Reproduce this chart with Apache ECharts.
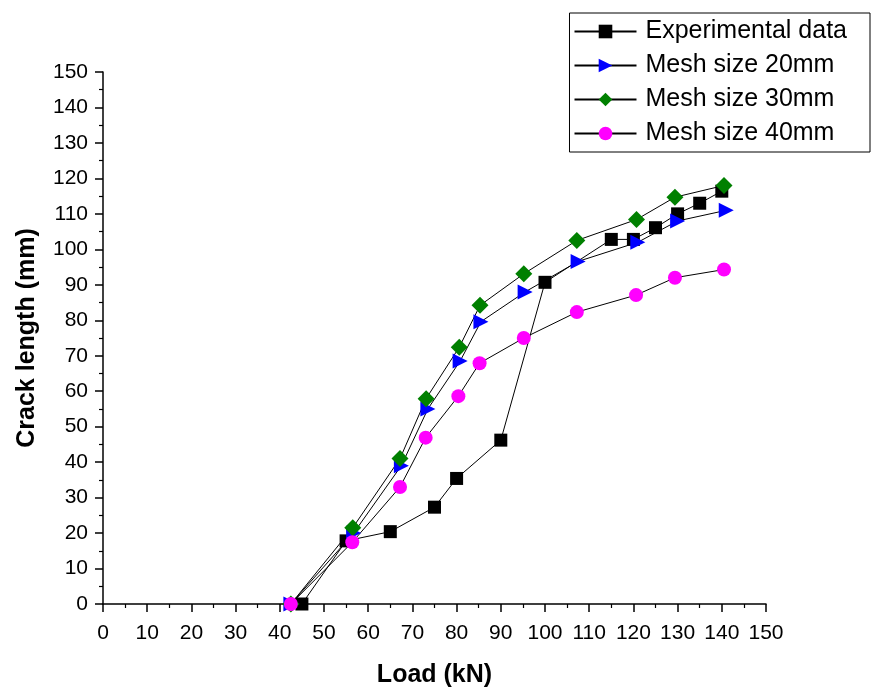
<!DOCTYPE html>
<html>
<head>
<meta charset="utf-8">
<script src="https://cdn.jsdelivr.net/npm/echarts@6/dist/echarts.min.js"></script>
<style>
  html, body { margin: 0; padding: 0; background: #fff; }
  #main { width: 871px; height: 688px; }
</style>
</head>
<body>
<div id="main"></div>
<script>
// values: [load kN, crack length mm]
var expData = [[45, 0], [55, 17.8], [65, 20.4], [75, 27.3], [80, 35.4], [90, 46.2], [100, 90.7],
    [115, 102.8], [120, 102.8], [125, 106.1], [130, 110], [135, 113], [140, 116.4]];
var mesh20 = [[42.5, 0], [56.7, 20], [67.5, 39], [73.5, 55], [80.8, 68.5], [85.5, 79.6], [95.5, 88],
    [107.5, 96.6], [121, 102], [130, 108], [141, 111]];
var mesh30 = [[42.5, 0], [56.5, 21.5], [67.2, 41], [73.1, 57.9], [80.6, 72.4], [85.3, 84.2], [95.2, 93.1],
    [107.2, 102.5], [120.7, 108.4], [129.4, 114.7], [140.5, 118]];
var mesh40 = [[42.5, 0], [56.4, 17.4], [67.2, 33], [73, 46.9], [80.4, 58.6], [85.2, 67.9], [95.2, 75],
    [107.2, 82.3], [120.6, 87.1], [129.4, 92], [140.5, 94.3]];
var seriesNames = ['Experimental data', 'Mesh size 20mm', 'Mesh size 30mm', 'Mesh size 40mm'];

var myChart = echarts.init(document.getElementById('main'));

function axisCommon() {
    return {
        type: 'value',
        min: 0,
        max: 150,
        interval: 10,
        nameLocation: 'middle',
        nameTextStyle: {
            color: '#000',
            fontSize: 25,
            fontWeight: 'bold',
            fontFamily: 'Liberation Sans'
        },
        axisLine: {show: true, onZero: false, lineStyle: {color: '#000', width: 1.5}},
        axisTick: {show: true, inside: false, length: 8, lineStyle: {color: '#000', width: 1.5}},
        minorTick: {show: true, splitNumber: 2, length: 4, lineStyle: {color: '#000', width: 1.2}},
        splitLine: {show: false},
        axisLabel: {
            color: '#000',
            fontSize: 21,
            fontFamily: 'Liberation Sans'
        }
    };
}

var xAxis = axisCommon();
xAxis.name = 'Load (kN)';
xAxis.nameGap = 59;
xAxis.axisLabel.margin = 19;

var yAxis = axisCommon();
yAxis.name = 'Crack length (mm)';
yAxis.nameGap = 63;
yAxis.axisLabel.margin = 15;

function lineSeries(name, data, symbol, size, color, rotate) {
    return {
        name: name,
        type: 'line',
        data: data,
        symbol: symbol,
        symbolSize: size,
        symbolRotate: rotate || 0,
        showAllSymbol: true,
        lineStyle: {color: '#000', width: 1},
        itemStyle: {color: color, opacity: 1},
        emphasis: {disabled: true},
        animation: false
    };
}

var option = {
    backgroundColor: '#fff',
    grid: {
        left: 103,
        right: 105,
        top: 72,
        bottom: 84,
        containLabel: false,
        outerBoundsMode: 'none'
    },
    legend: {
        data: seriesNames,
        orient: 'vertical',
        right: 1,
        top: 13,
        borderColor: '#000',
        borderWidth: 1,
        padding: [6, 23, 6, 4],
        itemGap: 9,
        itemWidth: 62,
        itemHeight: 17,
        textStyle: {
            color: '#000',
            fontSize: 25,
            fontFamily: 'Liberation Sans',
            padding: [0, 0, 0, 4]
        }
    },
    xAxis: xAxis,
    yAxis: yAxis,
    series: [
        lineSeries(seriesNames[0], expData, 'rect', 13, '#000000'),
        lineSeries(seriesNames[1], mesh20, 'triangle', 15, '#0000ff', -90),
        lineSeries(seriesNames[2], mesh30, 'diamond', 17, '#008000'),
        lineSeries(seriesNames[3], mesh40, 'circle', 14, '#ff00ff')
    ]
};

myChart.setOption(option);
</script>
</body>
</html>
